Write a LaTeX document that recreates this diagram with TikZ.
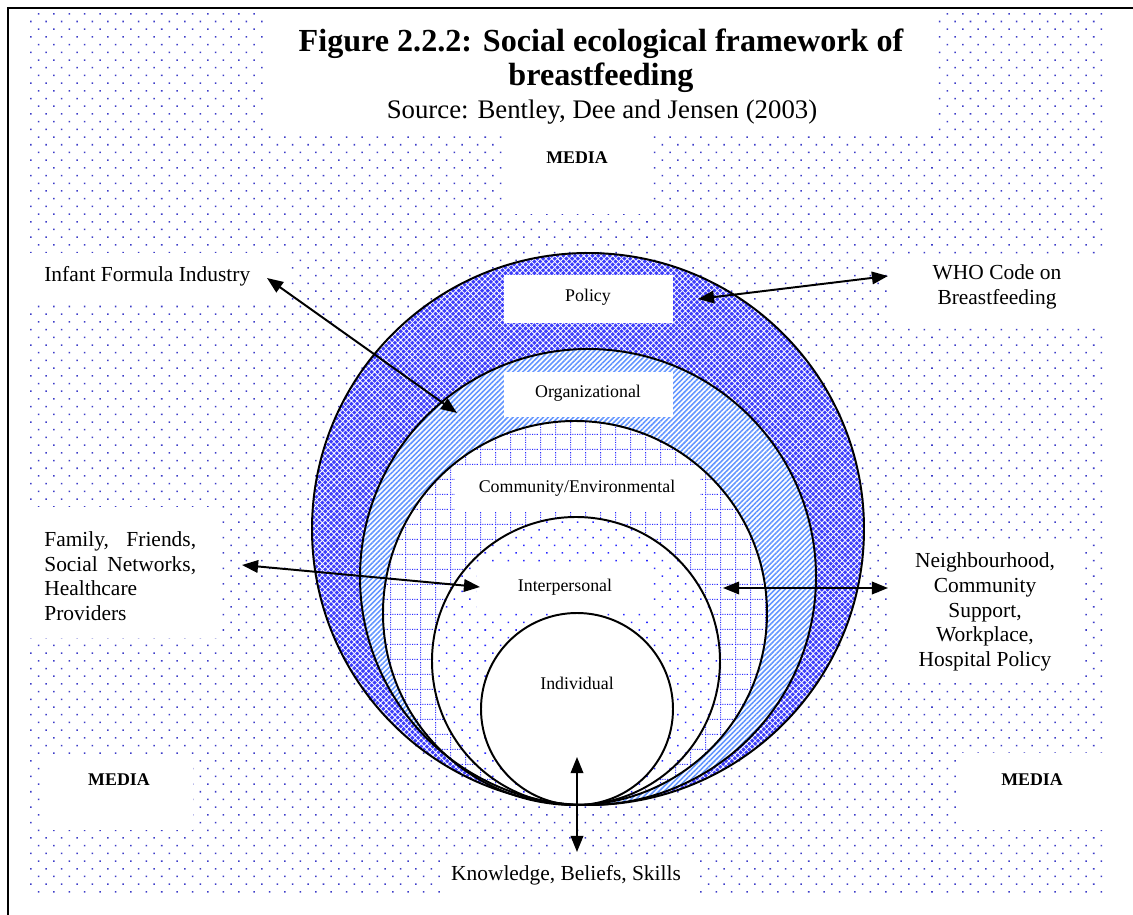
\documentclass[tikz,border=0pt]{standalone}
\usepackage{fontspec}
\setmainfont{Liberation Serif}
\usetikzlibrary{patterns,patterns.meta,arrows.meta}
\definecolor{bgdot}{RGB}{60,60,200}
\definecolor{ringblue}{RGB}{60,60,250}
\definecolor{stripeblue}{RGB}{100,150,255}
\definecolor{gridblue}{RGB}{40,40,255}
\tikzdeclarepattern{
  name=commgrid,
  type=colored,
  bottom left={(0pt,0pt)},
  top right={(8.4pt,8.4pt)},
  tile size={(8.4pt,8.4pt)},
  code={
    \path[draw=gridblue, line width=0.6pt, dash pattern=on 0.6pt off 0.8pt] (0pt,0.3pt) -- (8.4pt,0.3pt);
    \path[draw=gridblue, line width=0.6pt, dash pattern=on 0.6pt off 0.8pt] (0.3pt,0pt) -- (0.3pt,8.4pt);
  }
}
\begin{document}
\begin{tikzpicture}[x=0.56pt,y=-0.56pt,
  wbox/.style={fill=white},
  lab/.style={font=\fontsize{12}{13.8}\selectfont, inner sep=0pt},
  clab/.style={font=\fontsize{10}{12}\selectfont, inner sep=0pt},
  media/.style={font=\fontsize{10}{12}\selectfont\bfseries, inner sep=0pt},
  arr/.style={line width=1.1pt, {Triangle[length=9pt,width=7pt]}-{Triangle[length=9pt,width=7pt]}},
  ring/.style={draw=black, line width=1.1pt}
]
\useasboundingbox (0,0) rectangle (1133,915);
\fill[white] (0,0) rectangle (1133,915);
% dotted background
\fill[pattern={Dots[distance=6.1pt,angle=45,radius=0.6pt]}, pattern color=bgdot] (25,10) rectangle (1105,897);
% white label areas on background
\fill[wbox] (263,10) rectangle (936,133);
\fill[wbox] (502,133) rectangle (652,214);
\fill[wbox] (25,253) rectangle (290,300);
\fill[wbox] (887,255) rectangle (1105,323);
\fill[wbox] (25,507) rectangle (217,638);
\fill[wbox] (887,540) rectangle (1083,683);
\fill[wbox] (43,755) rectangle (193,830);
\fill[wbox] (960,753) rectangle (1105,830);
\fill[wbox] (440,855) rectangle (700,897);
% rings
\fill[ringblue] (588,529) circle[radius=276];
\fill[pattern={Hatch[angle=45,distance=2.3pt,line width=0.45pt]}, pattern color=white] (588,529) circle[radius=276];
\fill[white] (588,577) circle[radius=228];
\fill[pattern={Lines[angle=45,distance=2pt,line width=0.9pt]}, pattern color=stripeblue] (588,577) circle[radius=228];
\fill[white] (575,613) circle[radius=192];
\fill[pattern=commgrid] (575,613) circle[radius=192];
\fill[white] (576,661) circle[radius=144];
\fill[pattern={Dots[distance=6.1pt,angle=45,radius=0.6pt]}, pattern color=gridblue] (576,661) circle[radius=144];
\fill[white] (577,709) circle[radius=96];
% inner white label boxes
\fill[wbox] (504,275) rectangle (673,323);
\fill[wbox] (504,372) rectangle (673,417);
\fill[wbox] (455,467) rectangle (700,512);
\fill[wbox] (477,562) rectangle (650,613);
% outlines
\draw[ring] (588,529) circle[radius=276];
\draw[ring] (588,577) circle[radius=228];
\draw[ring] (575,613) circle[radius=192];
\draw[ring] (576,661) circle[radius=144];
\draw[ring] (577,709) circle[radius=96];
% title
\node[font=\fontsize{18}{21}\selectfont\bfseries, anchor=base, inner sep=0pt] (t1) at (601,52) {Figure 2.2.2: Social ecological framework of};
\node[font=\fontsize{18}{21}\selectfont\bfseries, anchor=base, inner sep=0pt] (t2) at (601,86) {breastfeeding};
\node[font=\fontsize{15}{18}\selectfont, anchor=base, inner sep=0pt] (src) at (602,119) {Source: Bentley, Dee and Jensen (2003)};
% media labels
\node[media] (m1) at (577,158) {MEDIA};
\node[media] (m2) at (119,780) {MEDIA};
\node[media] (m3) at (1032,780) {MEDIA};
% ring labels
\node[clab] (pol) at (588,297) {Policy};
\node[clab] (org) at (588,393) {Organizational};
\node[clab] (com) at (577,488) {Community/Environmental};
\node[clab] (int) at (565,587) {Interpersonal};
\node[clab] (ind) at (577,683) {Individual};
% outer labels
\node[lab, anchor=west] (inf) at (44,276) {Infant Formula Industry};
\node[lab, align=center] (who) at (997,287) {WHO Code on\\Breastfeeding};
\node[lab, align=left, anchor=west] (fam) at (44,576) {\hbox to 85pt{Family,\hfill Friends,}\\\hbox to 85pt{Social\hfill Networks,}\\Healthcare\\Providers};
\node[lab, align=center] (nei) at (985,612) {Neighbourhood,\\Community\\Support,\\Workplace,\\Hospital Policy};
\node[lab] (kno) at (566,875) {Knowledge, Beliefs, Skills};
% arrow ends
\coordinate (a1) at (267,278); \coordinate (b1) at (457,413);
\coordinate (a2) at (698,299); \coordinate (b2) at (888,276);
\coordinate (a3) at (242,565); \coordinate (b3) at (480,587);
\coordinate (a4) at (723,588); \coordinate (b4) at (888,588);
\coordinate (a5) at (577,757); \coordinate (b5) at (577,852);
\draw[arr] (a1) -- (b1);
\draw[arr] (a2) -- (b2);
\draw[arr] (a3) -- (b3);
\draw[arr] (a4) -- (b4);
\draw[arr] (a5) -- (b5);
% frame
\coordinate (f1) at (1133,8); \coordinate (f2) at (8,8); \coordinate (f3) at (8,915);
\draw[line width=1.1pt] (f1) -- (f2) -- (f3);
\end{tikzpicture}
\end{document}
